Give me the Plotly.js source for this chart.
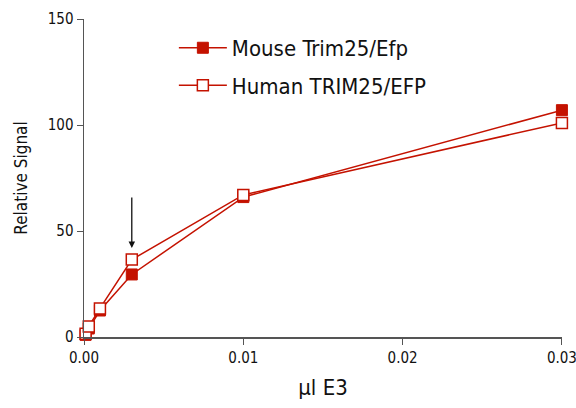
<!DOCTYPE html>
<html><head><meta charset="utf-8">
<script src="https://cdn.plot.ly/plotly-3.0.1.min.js"></script>
<style>html,body{margin:0;padding:0;background:#fff}</style>
</head><body>
<div id="chart" style="width:576px;height:408px"></div>
<script>
const e3Amount = [0.0001, 0.0003, 0.001, 0.003, 0.01, 0.03];
const mouseSignal = [1, 4, 12.5, 29.5, 66, 107];
const humanSignal = [1.5, 5, 13.5, 36.5, 67, 101];
const seriesNames = ["Mouse Trim25/Efp", "Human TRIM25/EFP"];
const xTicks = [0, 0.01, 0.02, 0.03];
const xTickText = ["0.00", "0.01", "0.02", "0.03"];
const yTicks = [0, 50, 100, 150];

const red = "#c41200";
const fontFam = "DejaVu Sans Condensed";

const traces = [
  {x: e3Amount, y: mouseSignal, name: seriesNames[0], mode: "lines+markers", legendgroup: "a",
   line: {color: red, width: 1.5}, marker: {symbol: "square", size: 11, color: red, line: {color: red, width: 1}}, cliponaxis: false},
  {x: e3Amount, y: humanSignal, name: seriesNames[1], mode: "lines+markers", legendgroup: "b",
   line: {color: red, width: 1.5}, marker: {symbol: "square", size: 11, color: "#ffffff", line: {color: red, width: 1.5}}, cliponaxis: false}
];

const layout = {
  width: 576, height: 408,
  margin: {l: 84, r: 14, t: 19, b: 71},
  paper_bgcolor: "#fff", plot_bgcolor: "#fff",
  font: {family: fontFam, color: "#111"},
  showlegend: true,
  legend: {x: 0.188, y: 0.975, xanchor: "left", yanchor: "top", font: {size: 22, color: "#111"},
    bgcolor: "rgba(0,0,0,0)", traceorder: "grouped", tracegroupgap: 6, itemwidth: 48},
  xaxis: {range: [0, 0.030005], tickvals: xTicks, ticktext: xTickText, ticks: "outside", ticklen: 6,
    ticklabeloverflow: "allow",
    showline: true, linecolor: "#555", linewidth: 1.5, tickcolor: "#555", showgrid: false, zeroline: false,
    tickfont: {size: 15}, title: {text: "µl E3", font: {size: 22}, standoff: 14}},
  yaxis: {range: [0, 150], tickvals: yTicks, ticks: "outside", ticklen: 6,
    showline: true, linecolor: "#555", linewidth: 1.5, tickcolor: "#555", showgrid: false, zeroline: false,
    tickfont: {size: 15}, title: {text: "Relative Signal", font: {size: 17}, standoff: 16}},
  annotations: [{x: 0.003, y: 42, xref: "x", yref: "y", text: "", showarrow: true,
    arrowhead: 2, arrowsize: 1, arrowwidth: 1.3, arrowcolor: "#111", ax: 0, ay: -52}]
};
Plotly.newPlot("chart", traces, layout, {displayModeBar: false, staticPlot: true});
</script>
</body></html>
